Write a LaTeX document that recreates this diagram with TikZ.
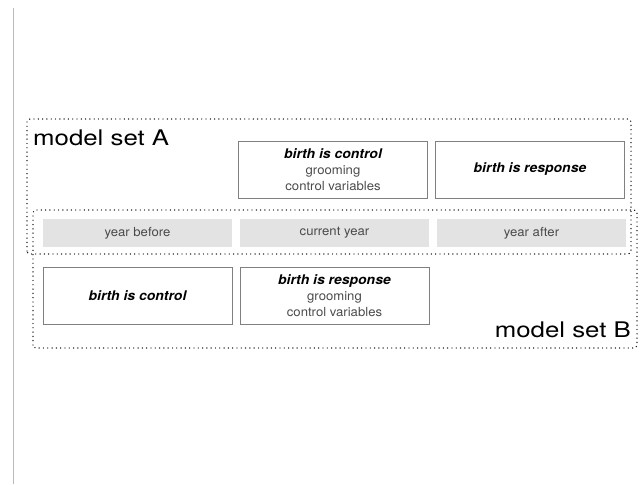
\documentclass[tikz,border=0pt]{standalone}
\usepackage{fontspec}
\setmainfont{TeX Gyre Heros}[FakeStretch=1.05]
\newfontfamily\labelfont{TeX Gyre Heros}[FakeStretch=1.2]
\usetikzlibrary{positioning}
\definecolor{bargray}{HTML}{E3E3E3}
\definecolor{linegray}{HTML}{808080}
\definecolor{textgray}{HTML}{4A4A4A}
\newcommand{\role}[1]{{\color{black}\fontsize{13.3}{16}\selectfont\bfseries\itshape #1}}

\begin{document}
\begin{tikzpicture}[x=1pt,y=1pt,node distance=197pt,
	year/.style={fill=bargray,minimum width=189pt,minimum height=28pt,inner sep=0pt,
		text=textgray,font=\fontsize{12.5}{16}\selectfont},
	model/.style={draw=linegray,line width=0.8pt,minimum width=189pt,minimum height=57pt,
		inner sep=0pt,align=center,text=textgray,font=\fontsize{12.5}{16}\selectfont},
	set frame/.style={line width=1.4pt,dash pattern=on 0pt off 4.3pt,line cap=round,rounded corners=3pt},
	set label/.style={font=\labelfont\fontsize{21.5}{26}\selectfont,inner sep=0pt}]
	
	\useasboundingbox (0,0) rectangle (644,484);
	\draw[gray!55,line width=1.2pt] (13.5,0) -- (13.5,476);
	
	% years
	\node[year] (before) at (137.5,251) {year before};
	\node[year] (current) [right of=before] {current year};
	\node[year] (after) [right of=current] {year after};
	
	% model set A
	\node[model] (ctrlA) [above of=current,node distance=63.5pt,xshift=-1.5pt]
		{\role{birth is control}\\grooming\\control variables};
	\node[model] (respA) [above of=after,node distance=63.5pt,xshift=-1.5pt]
		{\role{birth is response}};
	
	% model set B
	\node[model] (ctrlB) [below of=before,node distance=62.5pt] {\role{birth is control}};
	\node[model] (respB) [below of=current,node distance=62.5pt]
		{\role{birth is response}\\grooming\\control variables};
	
	\draw[set frame] (27,230) rectangle (631,365);
	\draw[set frame] (33,136) rectangle (637,274);
	\node[set label,anchor=base west] (setA) at (33,338) {model set A};
	\node[set label,anchor=base east] (setB) at (631,146) {model set B};
\end{tikzpicture}
\end{document}
